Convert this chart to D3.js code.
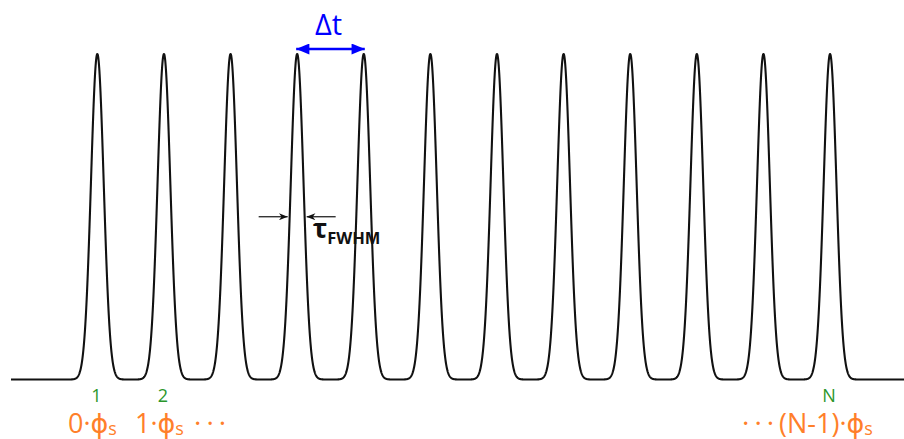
<!DOCTYPE html>
<html>
<head>
<meta charset="utf-8">
<script src="https://cdn.jsdelivr.net/npm/d3@7"></script>
<style>
  html, body { margin: 0; padding: 0; background: #fff; }
  svg { display: block; }
  text { font-family: "Open Sans", "DejaVu Sans", sans-serif; }
</style>
</head>
<body>
<svg id="chart" width="904" height="439"></svg>
<script>
// Pulse train: centres in units of the repetition period Δt
const pulseCenters = [0, 1, 2, 3, 4, 5, 6, 7, 8, 9, 10, 11];
const pulseAmplitude = 1;
const pulseFwhm = 0.225;          // pulse width (FWHM) in units of Δt
const timeDomain = [-1.296, 12.11];

// Labels under the pulses
const indexLabels = [
  { pulse: 0, text: "1" },
  { pulse: 1, text: "2" },
  { pulse: 11, text: "N" }
];

const svg = d3.select("#chart");

const x = d3.scaleLinear().domain(timeDomain).range([11, 904]);
const y = d3.scaleLinear().domain([0, pulseAmplitude]).range([379.5, 54]);

const sigma = pulseFwhm / (2 * Math.sqrt(2 * Math.LN2));
function field(t) {
  let s = 0;
  for (const c of pulseCenters) {
    const u = (t - c) / sigma;
    s += pulseAmplitude * Math.exp(-0.5 * u * u);
  }
  return s;
}

const step = (timeDomain[1] - timeDomain[0]) / 4000;
const samples = d3.range(timeDomain[0], timeDomain[1] + step / 2, step).map(t => [t, field(t)]);

svg.append("path")
  .datum(samples)
  .attr("fill", "none")
  .attr("stroke", "#111")
  .attr("stroke-width", 2.1)
  .attr("stroke-linejoin", "round")
  .attr("d", d3.line().x(d => x(d[0])).y(d => y(d[1])));

// Arrowheads
const defs = svg.append("defs");
defs.append("marker")
  .attr("id", "blueHead")
  .attr("viewBox", "0 0 12 10")
  .attr("refX", 12).attr("refY", 5)
  .attr("markerUnits", "userSpaceOnUse")
  .attr("markerWidth", 14).attr("markerHeight", 11)
  .attr("orient", "auto-start-reverse")
  .append("path")
  .attr("d", "M0,0 L12,5 L0,10 Z")
  .attr("fill", "#0000ff");

defs.append("marker")
  .attr("id", "blackHead")
  .attr("viewBox", "0 0 10 8")
  .attr("refX", 10).attr("refY", 4)
  .attr("markerUnits", "userSpaceOnUse")
  .attr("markerWidth", 9).attr("markerHeight", 7)
  .attr("orient", "auto")
  .append("path")
  .attr("d", "M0,0 L10,4 L0,8 L3,4 Z")
  .attr("fill", "#111");

// Δt marker between pulses 4 and 5
const dtFrom = pulseCenters[3], dtTo = pulseCenters[4];
const dtY = 49;
svg.append("line")
  .attr("x1", x(dtFrom) - 1).attr("x2", x(dtTo) + 1)
  .attr("y1", dtY).attr("y2", dtY)
  .attr("stroke", "#0000ff")
  .attr("stroke-width", 2.5)
  .attr("marker-start", "url(#blueHead)")
  .attr("marker-end", "url(#blueHead)");

svg.append("text")
  .attr("x", (x(dtFrom) + x(dtTo)) / 2 - 2)
  .attr("y", 35)
  .attr("text-anchor", "middle")
  .attr("fill", "#0000ff")
  .attr("font-size", 29)
  .text("Δt");

// FWHM marker on pulse 4
const halfY = y(pulseAmplitude / 2);
const leftEdge = x(pulseCenters[3] - pulseFwhm / 2);
const rightEdge = x(pulseCenters[3] + pulseFwhm / 2);
svg.append("line")
  .attr("x1", leftEdge - 31).attr("x2", leftEdge - 2)
  .attr("y1", halfY).attr("y2", halfY)
  .attr("stroke", "#111").attr("stroke-width", 1.2)
  .attr("marker-end", "url(#blackHead)");
svg.append("line")
  .attr("x1", rightEdge + 31).attr("x2", rightEdge + 2)
  .attr("y1", halfY).attr("y2", halfY)
  .attr("stroke", "#111").attr("stroke-width", 1.2)
  .attr("marker-end", "url(#blackHead)");

const tau = svg.append("text")
  .attr("x", rightEdge + 8)
  .attr("y", 238)
  .attr("fill", "#111")
  .attr("font-weight", "bold")
  .attr("font-size", 27);
tau.append("tspan").text("τ");
tau.append("tspan").attr("font-size", 16.5).attr("dy", 5.5).text("FWHM");

// Pulse index labels
svg.selectAll("text.idx")
  .data(indexLabels)
  .join("text")
  .attr("class", "idx")
  .attr("x", d => x(pulseCenters[d.pulse]) - 1)
  .attr("y", 402)
  .attr("text-anchor", "middle")
  .attr("fill", "#2a962a")
  .attr("font-size", 18)
  .text(d => d.text);

// Phase labels
const orange = "#ff7f2a";
function phaseLabel(xPos, prefix) {
  const t = svg.append("text")
    .attr("x", xPos).attr("y", 433)
    .attr("fill", orange)
    .attr("font-size", 27);
  t.append("tspan").text(prefix + "ϕ");
  t.append("tspan").attr("font-size", 18).attr("dy", 2).text("s");
  return t;
}
function dots(xPos) {
  svg.append("text")
    .attr("x", xPos).attr("y", 433)
    .attr("fill", orange)
    .attr("font-size", 28)
    .attr("letter-spacing", -1.1)
    .text("· · ·");
}
phaseLabel(68, "0·");
phaseLabel(135, "1·");
dots(194);
dots(742);
phaseLabel(779, "(N-1)·");
</script>
</body>
</html>
